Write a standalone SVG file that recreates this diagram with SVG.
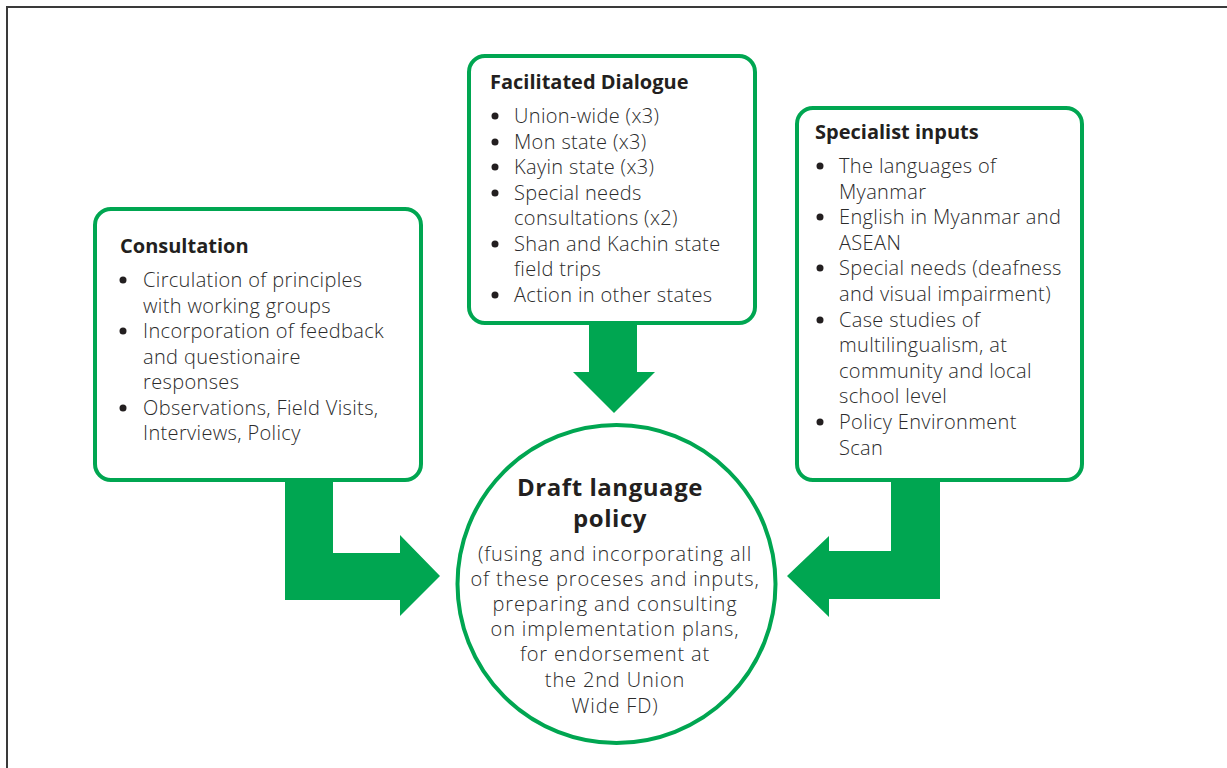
<svg xmlns="http://www.w3.org/2000/svg" width="1227" height="768" viewBox="0 0 1227 768">
<style>
.box{fill:#fff;stroke:#00a651;stroke-width:4}
.arr{fill:#00a651}
.bul{fill:#231f20}
.ttl{font-family:"Open Sans","Liberation Sans",sans-serif;font-weight:bold;font-size:20px;fill:#231f20}
.txt{font-family:"Open Sans","Liberation Sans",sans-serif;font-weight:300;font-size:20px;letter-spacing:0.35px;fill:#2b2b2b}
.sub{font-family:"Open Sans","Liberation Sans",sans-serif;font-weight:300;font-size:20px;letter-spacing:0.85px;fill:#2b2b2b;text-anchor:middle}
.big{font-family:"Open Sans","Liberation Sans",sans-serif;font-weight:bold;font-size:24px;letter-spacing:0.55px;fill:#231f20;text-anchor:middle}
</style>
<rect width="1227" height="768" fill="#fff"/>
<path d="M7,768 V7 H1227" fill="none" stroke="#3a3a3a" stroke-width="2"/>
<g id="connectors">
<path class="arr" d="M285,480 H333 V553 H400 V535 L440,576 L400,616 V600 H285 Z"/>
<path class="arr" d="M940,480 H891 V551 H829 V536 L787,576 L829,617 V599 H940 Z"/>
<path class="arr" d="M589,323 H637 V372 H655 L614,413 L573,372 H589 Z"/>
</g>
<g id="consultation">
<rect class="box" x="95" y="209" width="326" height="271" rx="16"/>
<text class="ttl" x="120" y="253">Consultation</text>
<g class="bul">
<circle cx="123" cy="280" r="3.5"/>
<circle cx="123" cy="331" r="3.5"/>
<circle cx="123" cy="408" r="3.5"/>
</g>
<g class="txt">
<text x="143" y="287">Circulation of principles</text>
<text x="143" y="313">with working groups</text>
<text x="143" y="338">Incorporation of feedback</text>
<text x="143" y="364">and questionaire</text>
<text x="143" y="389">responses</text>
<text x="143" y="415">Observations, Field Visits,</text>
<text x="143" y="440">Interviews, Policy</text>
</g>
</g>
<g id="facilitated">
<rect class="box" x="469" y="56" width="286" height="267" rx="16"/>
<text class="ttl" x="490" y="89">Facilitated Dialogue</text>
<g class="bul">
<circle cx="495" cy="116" r="3.5"/>
<circle cx="495" cy="142" r="3.5"/>
<circle cx="495" cy="167" r="3.5"/>
<circle cx="495" cy="193" r="3.5"/>
<circle cx="495" cy="244" r="3.5"/>
<circle cx="495" cy="295" r="3.5"/>
</g>
<g class="txt">
<text x="514" y="123">Union-wide (x3)</text>
<text x="514" y="149">Mon state (x3)</text>
<text x="514" y="174">Kayin state (x3)</text>
<text x="514" y="200">Special needs</text>
<text x="514" y="225">consultations (x2)</text>
<text x="514" y="251">Shan and Kachin state</text>
<text x="514" y="276">field trips</text>
<text x="514" y="302">Action in other states</text>
</g>
</g>
<g id="specialist">
<rect class="box" x="797" y="108" width="285" height="372" rx="16"/>
<text class="ttl" x="815" y="139">Specialist inputs</text>
<g class="bul">
<circle cx="820" cy="166" r="3.5"/>
<circle cx="820" cy="217" r="3.5"/>
<circle cx="820" cy="268" r="3.5"/>
<circle cx="820" cy="320" r="3.5"/>
<circle cx="820" cy="422" r="3.5"/>
</g>
<g class="txt">
<text x="839" y="173">The languages of</text>
<text x="839" y="199">Myanmar</text>
<text x="839" y="224">English in Myanmar and</text>
<text x="839" y="250">ASEAN</text>
<text x="839" y="275">Special needs (deafness</text>
<text x="839" y="301">and visual impairment)</text>
<text x="839" y="327">Case studies of</text>
<text x="839" y="352">multilingualism, at</text>
<text x="839" y="378">community and local</text>
<text x="839" y="403">school level</text>
<text x="839" y="429">Policy Environment</text>
<text x="839" y="455">Scan</text>
</g>
</g>
<g id="draft">
<circle class="box" cx="616.5" cy="584" r="159"/>
<text class="big" x="610" y="496">Draft language</text>
<text class="big" x="610" y="527">policy</text>
<g class="sub">
<text x="615" y="561">(fusing and incorporating all</text>
<text x="615" y="586">of these proceses and inputs,</text>
<text x="615" y="611">preparing and consulting</text>
<text x="615" y="636">on implementation plans,</text>
<text x="615" y="661">for endorsement at</text>
<text x="615" y="687">the 2nd Union</text>
<text x="615" y="713">Wide FD)</text>
</g>
</g>
</svg>
